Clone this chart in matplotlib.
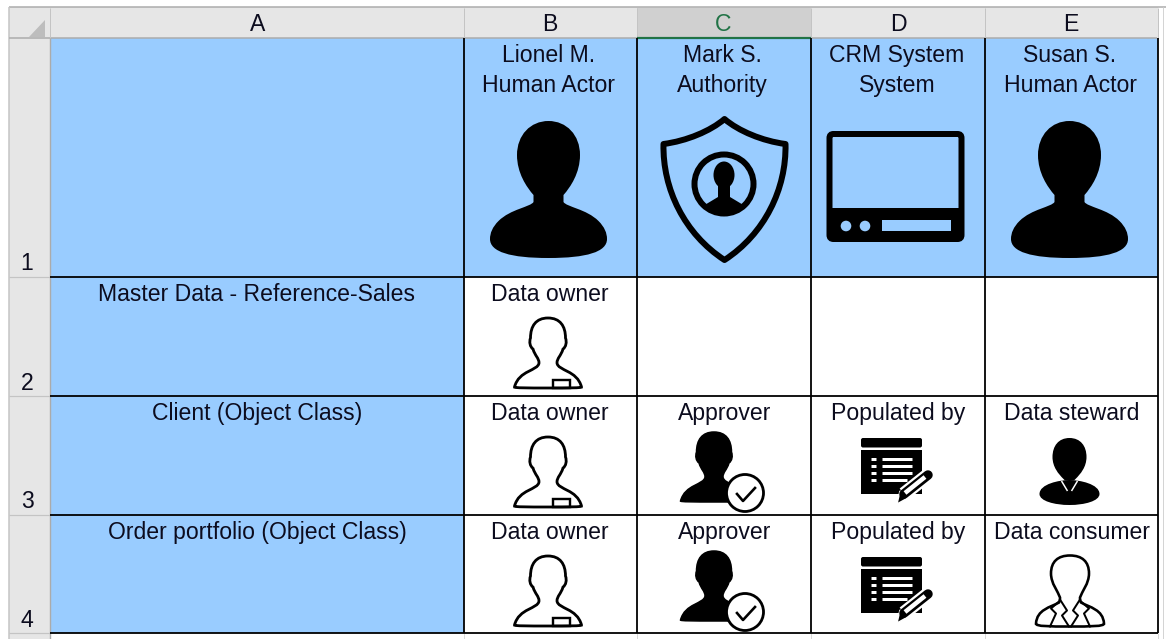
# EXCEL SHEET: RACI STYLE MATRIX WITH ICONS

import matplotlib
matplotlib.use('Agg')
import matplotlib.pyplot as plt
from matplotlib.path import Path
from matplotlib.patches import PathPatch, Rectangle, Circle, Ellipse, FancyBboxPatch, Polygon

plt.rcParams['font.family'] = ['Liberation Sans', 'DejaVu Sans']

# DATA

col_letters = ['A', 'B', 'C', 'D', 'E']
row_numbers = ['1', '2', '3', '4']
actor_names = ['Lionel M.', 'Mark S.', 'CRM System', 'Susan S.']
actor_types = ['Human Actor', 'Authority', 'System', 'Human Actor']
row_labels = ['Master Data - Reference-Sales', 'Client (Object Class)', 'Order portfolio (Object Class)']
roles_row2 = ['Data owner', '', '', '']
roles_row3 = ['Data owner', 'Approver', 'Populated by', 'Data steward']
roles_row4 = ['Data owner', 'Approver', 'Populated by', 'Data consumer']

# LAYOUT (PIXELS OF THE SCREENSHOT)

col_edges = [50, 463.5, 637, 810.5, 984.5, 1157.5]
row_edges = [38, 277, 396, 515, 633]
BLUE = '#99CCFF'
HEAD = '#E6E6E6'
GREY = '#ABABAB'
TXT = '#0C0C1E'
FS = 16.6

fig = plt.figure(figsize=(11.66, 6.39), dpi=100)
ax = fig.add_axes([0, 0, 1, 1])
ax.set_xlim(0, 1166)
ax.set_ylim(639, 0)
ax.axis('off')


def px(w):
    return w * 0.72


def half_path(pts):
    # pts = right half from top centre, cubic segments. Left half is mirrored
    left = [(-x, y) for x, y in reversed(pts[:-1])]
    verts = pts + left + [pts[0]]
    codes = [Path.MOVETO] + [Path.CURVE4] * (len(verts) - 2) + [Path.CLOSEPOLY]
    return verts, codes


def shape(pts, cx, top, **kw):
    verts, codes = half_path(pts)
    verts = [(cx + x, top + y) for x, y in verts]
    p = PathPatch(Path(verts, codes), **kw)
    ax.add_patch(p)
    return p


def seg(x0, y0, x1, y1, w, color='black', cap='butt', z=5):
    ax.plot([x0, x1], [y0, y1], color=color, lw=px(w), solid_capstyle=cap, zorder=z)


big_person = [(0, 0), (18, 0), (31.5, 14), (31.5, 34), (31.5, 52), (22, 66), (15, 74),
              (15, 76), (15, 79), (15, 81), (18, 86), (38, 88), (50, 100),
              (56, 106), (58.5, 112), (58.5, 118), (58.5, 131), (38, 137), (0, 137)]
bust = [(0, 0), (12, 0), (17.5, 8), (17.5, 20), (19, 24), (18, 29), (15, 31),
        (13, 38), (9, 40), (9, 45), (10, 53), (29, 52), (33.5, 69),
        (34, 70), (20, 70), (0, 70)]
steward_head = [(0, 0), (11, 0), (17, 8), (17, 19), (17, 29), (11, 36), (6, 41),
                (5, 42), (5, 42), (5, 42), (3, 42), (1, 42), (0, 42)]
shoulders = [(0, 42), (10, 42), (30, 46), (30, 56), (30, 63), (15, 67), (0, 67)]
consumer = [(0, 0), (12, 0), (19, 6), (19, 18), (19, 28), (12, 36), (10, 42),
            (10, 44), (10, 45), (11, 47), (20, 52), (33, 54), (34, 68),
            (34.5, 71), (20, 71), (0, 71)]


def icon_big_person(cx, top):
    shape(big_person, cx, top, fc='black', ec='none', zorder=4)


def icon_shield():
    cx, top = 724.5, 119
    right = [(0, 0), (14, 12), (38, 22), (61, 25), (62, 70), (40, 115), (0, 141)]
    verts = right + [(-x, y) for x, y in reversed(right[:-1])] + [right[0]]
    codes = [Path.MOVETO] + [Path.CURVE4] * (len(verts) - 2) + [Path.CLOSEPOLY]
    verts = [(cx + x, top + y) for x, y in verts]
    ax.add_patch(PathPatch(Path(verts, codes), fc='none', ec='black', lw=px(6), joinstyle='round', zorder=4))
    ax.add_patch(Circle((724, 184), 29.5, fc='none', ec='black', lw=px(6), zorder=4))
    ax.add_patch(Ellipse((724, 175), 21, 27, fc='black', ec='none', zorder=4))
    ax.add_patch(Rectangle((718, 183), 12, 17, fc='black', ec='none', zorder=4))
    body = Polygon([(703, 206), (718, 197), (730, 197), (745, 206), (750, 222), (698, 222)],
                   closed=True, fc='black', ec='none', zorder=4)
    ax.add_patch(body)
    body.set_clip_path(Circle((724, 184), 30, transform=ax.transData))


def icon_monitor():
    ax.add_patch(FancyBboxPatch((829.5, 134), 132, 105, boxstyle='round,pad=0,rounding_size=4',
                                fc='none', ec='black', lw=px(6), zorder=4))
    ax.add_patch(Rectangle((830, 208), 131, 31, fc='black', ec='none', zorder=4))
    for x in (846, 865):
        ax.add_patch(Circle((x, 226), 5.3, fc=BLUE, ec='none', zorder=5))
    ax.add_patch(Rectangle((882, 220), 69, 11, fc=BLUE, ec='none', zorder=5))


def icon_owner(left, rtop):
    cx, top = left + 84.5, rtop + 41
    shape(bust, cx, top, fc='none', ec='black', lw=px(2.8), zorder=4)
    ax.add_patch(Rectangle((cx + 5, top + 62), 17, 8, fc='none', ec='black', lw=px(2.4), zorder=4))


def icon_approver(left, rtop):
    cx, top = left + 77, rtop + 36
    shape(bust, cx, top, fc='black', ec='black', lw=px(1.5), zorder=4)
    ax.add_patch(Circle((cx + 31, top + 61), 18.5, fc='white', ec='black', lw=px(2.8), zorder=5))
    ax.plot([cx + 23, cx + 29, cx + 41], [top + 62, top + 69, top + 56], color='black', lw=px(2.6), zorder=6)


def icon_populated(left, rtop):
    x0, y0 = left + 50.5, rtop + 42
    ax.add_patch(FancyBboxPatch((x0, y0), 61, 9.5, boxstyle='round,pad=0,rounding_size=2',
                                fc='black', ec='none', zorder=4))
    ax.add_patch(Rectangle((x0, y0 + 12), 61, 44, fc='black', ec='none', zorder=4))
    for i, y in enumerate((21, 28, 35, 42)):
        end = 46 if i == 3 else 51
        seg(x0 + 10, y0 + y, x0 + 15, y0 + y, 3, 'white')
        seg(x0 + 21, y0 + y, x0 + end, y0 + y, 3, 'white')
    # pencil
    ax.add_patch(Polygon([(x0 + 36, y0 + 66), (x0 + 39, y0 + 53), (x0 + 47, y0 + 60)],
                         closed=True, fc='black', ec='white', lw=px(1.5), zorder=5))
    seg(x0 + 43, y0 + 56, x0 + 67, y0 + 37, 14, 'white')
    seg(x0 + 43, y0 + 56, x0 + 67, y0 + 37, 9.5, 'black', 'round')
    seg(x0 + 44, y0 + 55, x0 + 64, y0 + 39, 4.5, 'white')


def icon_steward(left, rtop):
    cx, top = left + 85, rtop + 42
    shape(shoulders, cx, top, fc='black', ec='none', zorder=4)
    shape(steward_head, cx, top, fc='black', ec='none', zorder=4)
    seg(cx - 8, top + 43, cx - 2, top + 53, 1.5, 'white')
    seg(cx + 8, top + 43, cx + 2, top + 53, 1.5, 'white')


def icon_consumer(left, rtop):
    cx, top = left + 85.5, rtop + 40.5
    shape(consumer, cx, top, fc='none', ec='black', lw=px(2.6), zorder=4)
    for sign in (-1, 1):
        ax.plot([cx + sign * 10, cx + sign * 3, cx + sign * 8, cx + sign * 1],
                [top + 44, top + 55, top + 60, top + 71], color='black', lw=px(2), zorder=4)
        ax.plot([cx + sign * 11, cx + sign * 19, cx + sign * 14, cx + sign * 20],
                [top + 46, top + 53, top + 58, top + 71], color='black', lw=px(2), zorder=4)


role_icons = {'Data owner': icon_owner, 'Approver': icon_approver, 'Populated by': icon_populated,
              'Data steward': icon_steward, 'Data consumer': icon_consumer}

# SHEET BACKGROUND

ax.add_patch(Rectangle((9, 7), 1149, 31, fc=HEAD, ec='none', zorder=0))
ax.add_patch(Rectangle((9, 38), 41, 601, fc=HEAD, ec='none', zorder=0))
ax.add_patch(Rectangle((637, 8), 173.5, 30, fc='#D0D0D0', ec='none', zorder=0))
seg(9, 7, 1166, 7, 1.5, GREY, z=1)
seg(9, 7, 9, 639, 1.5, '#C4C4C4', z=1)
seg(1163, 7, 1163, 639, 1, '#D4D4D4', z=1)
seg(9, 38, 1157, 38, 1.5, GREY, z=1)
seg(50, 8, 50, 38, 1, '#C4C4C4', z=1)
seg(50, 38, 50, 639, 1.4, GREY, z=1)
ax.add_patch(Polygon([(29, 37), (45, 20), (45, 37)], closed=True, fc='#BDBDBD', ec='none', zorder=1))
for x in col_edges[1:]:
    seg(x, 8, x, 38, 1, '#C4C4C4', z=1)
    seg(x, 633, x, 639, 1, '#DADADA', z=1)
for y in row_edges[1:]:
    seg(9, y, 50, y, 1.2, '#C4C4C4', z=1)
seg(637, 37.5, 810.5, 37.5, 2.2, '#217346', z=2)

ax.add_patch(Rectangle((col_edges[0], row_edges[0]), col_edges[1] - col_edges[0], row_edges[4] - row_edges[0],
                       fc=BLUE, ec='none', zorder=0))
ax.add_patch(Rectangle((col_edges[1], row_edges[0]), col_edges[5] - col_edges[1], row_edges[1] - row_edges[0],
                       fc=BLUE, ec='none', zorder=0))

# CELL BORDERS

for x in col_edges[1:]:
    seg(x, row_edges[0], x, row_edges[4], 1.8, z=3)
for y in row_edges[1:]:
    seg(col_edges[0], y, col_edges[5], y, 1.8, z=3)

# TEXT

letter_x = [258, 550, 723, 898, 1071]
for x, s in zip(letter_x, col_letters):
    ax.text(x, 31, s, ha='center', va='baseline', fontsize=FS, color='#217346' if s == 'C' else TXT)

number_y = [270, 390, 508, 627]
for y, s in zip(number_y, row_numbers):
    ax.text(27, y, s, ha='center', va='baseline', fontsize=FS, color=TXT)

name_x = [549, 722, 897, 1070]
for x, a, b in zip(name_x, actor_names, actor_types):
    ax.text(x, 62, a, ha='center', va='baseline', fontsize=FS, color=TXT)
    ax.text(x, 92, b, ha='center', va='baseline', fontsize=FS, color=TXT)

label_x = [256, 257, 257]
role_x = [550, 725, 898, 1072]
for r, (lx, s, roles) in enumerate(zip(label_x, row_labels, [roles_row2, roles_row3, roles_row4])):
    rtop = row_edges[r + 1]
    ax.text(lx, rtop + 24, s, ha='center', va='baseline', fontsize=FS, color=TXT)
    for c, role in enumerate(roles):
        if role:
            ax.text(role_x[c], rtop + 24, role, ha='center', va='baseline', fontsize=FS, color=TXT)
            role_icons[role](col_edges[c + 1], rtop)

# HEADER ICONS

icon_big_person(548.5, 121)
icon_shield()
icon_monitor()
icon_big_person(1069.5, 121)

fig.savefig('out.png', dpi=100, facecolor='white')
